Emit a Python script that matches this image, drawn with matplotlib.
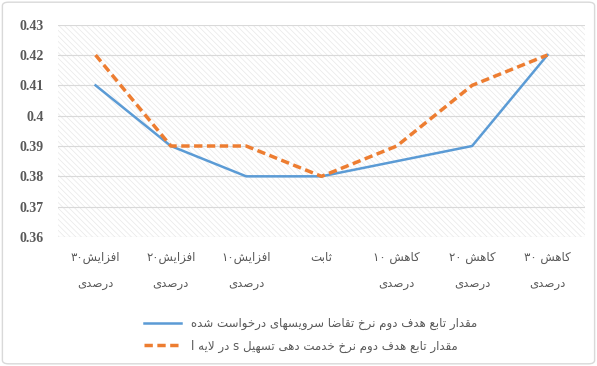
import matplotlib
matplotlib.use("Agg")
import matplotlib.pyplot as plt
from matplotlib.patches import FancyBboxPatch, Rectangle

# Persian text is shaped by hand: matplotlib draws no RTL joining on its own
FORMS = {
    "ا": (0xFE8D, 0xFE8E, None, None),
    "ب": (0xFE8F, 0xFE90, 0xFE91, 0xFE92),
    "ت": (0xFE95, 0xFE96, 0xFE97, 0xFE98),
    "ث": (0xFE99, 0xFE9A, 0xFE9B, 0xFE9C),
    "خ": (0xFEA5, 0xFEA6, 0xFEA7, 0xFEA8),
    "د": (0xFEA9, 0xFEAA, None, None),
    "ر": (0xFEAD, 0xFEAE, None, None),
    "ز": (0xFEAF, 0xFEB0, None, None),
    "س": (0xFEB1, 0xFEB2, 0xFEB3, 0xFEB4),
    "ش": (0xFEB5, 0xFEB6, 0xFEB7, 0xFEB8),
    "ص": (0xFEB9, 0xFEBA, 0xFEBB, 0xFEBC),
    "ض": (0xFEBD, 0xFEBE, 0xFEBF, 0xFEC0),
    "ع": (0xFEC9, 0xFECA, 0xFECB, 0xFECC),
    "ف": (0xFED1, 0xFED2, 0xFED3, 0xFED4),
    "ق": (0xFED5, 0xFED6, 0xFED7, 0xFED8),
    "ل": (0xFEDD, 0xFEDE, 0xFEDF, 0xFEE0),
    "م": (0xFEE1, 0xFEE2, 0xFEE3, 0xFEE4),
    "ن": (0xFEE5, 0xFEE6, 0xFEE7, 0xFEE8),
    "ه": (0xFEE9, 0xFEEA, 0xFEEB, 0xFEEC),
    "و": (0xFEED, 0xFEEE, None, None),
    "ی": (0xFBFC, 0xFBFD, 0xFBFE, 0xFBFF),
    "ک": (0xFB8E, 0xFB8F, 0xFB90, 0xFB91),
}


def dual(c):
    return c in FORMS and FORMS[c][2] is not None


def shape(text):
    out = []
    i = 0
    while i < len(text):
        c = text[i]
        prev = text[i - 1] if i > 0 else ""
        if c not in FORMS:
            out.append(c)
            i += 1
            continue
        joins_prev = dual(prev)
        if c == "ل" and i + 1 < len(text) and text[i + 1] == "ا":
            out.append(chr(0xFEFC if joins_prev else 0xFEFB))
            i += 2
            continue
        nxt = text[i + 1] if i + 1 < len(text) else ""
        joins_next = dual(c) and nxt in FORMS
        iso, fin, ini, med = FORMS[c]
        if joins_prev and joins_next:
            code = med
        elif joins_prev:
            code = fin
        elif joins_next:
            code = ini
        else:
            code = iso
        out.append(chr(code))
        i += 1
    # visual order: reverse, then put LTR runs (digits, latin) back in order
    rev = "".join(reversed(out))
    res, run = [], []
    for ch in rev:
        if ch.isascii() and ch.isalnum() or "\u06f0" <= ch <= "\u06f9":
            run.append(ch)
        else:
            res.extend(reversed(run))
            run = []
            res.append(ch)
    res.extend(reversed(run))
    return "".join(res)


categories = [
    ("افزایش۳۰", "درصدی"),
    ("افزایش۲۰", "درصدی"),
    ("افزایش۱۰", "درصدی"),
    ("ثابت", ""),
    ("کاهش ۱۰", "درصدی"),
    ("کاهش ۲۰", "درصدی"),
    ("کاهش ۳۰", "درصدی"),
]
demand_rate = [0.41, 0.39, 0.38, 0.38, 0.385, 0.39, 0.42]
service_rate = [0.42, 0.39, 0.39, 0.38, 0.39, 0.41, 0.42]
label_demand = "مقدار تابع هدف دوم نرخ تقاضا سرویسهای درخواست شده"
label_service = "مقدار تابع هدف دوم نرخ خدمت دهی تسهیل s در لایه l"
y_ticks = [0.36, 0.37, 0.38, 0.39, 0.40, 0.41, 0.42, 0.43]

plt.rcParams["hatch.linewidth"] = 0.5

fig = plt.figure(figsize=(5.97, 3.66), dpi=100)
frame = FancyBboxPatch((0.004, 0.006), 0.992, 0.988, boxstyle="round,pad=0,rounding_size=0.01",
                       transform=fig.transFigure, facecolor="white", edgecolor="#d9d9d9", lw=1, zorder=-5)
fig.patches.append(frame)
ax = fig.add_axes([0.097, 0.3525, 0.883, 0.58])
ax.patch.set_facecolor("white")
# light diagonal texture of the plot area
ax.add_patch(Rectangle((0, 0), 1, 1, transform=ax.transAxes, facecolor="white", edgecolor="#e8e8e8",
                       hatch="\\\\\\\\\\\\", lw=0, zorder=0))

x = range(len(categories))
ax.plot(x, demand_rate, color="#5b9bd5", lw=1.8, label=shape(label_demand), zorder=3)
ax.plot(x, service_rate, color="#ed7d31", lw=2.5, dashes=(2.4, 1.3), label=shape(label_service), zorder=3)

ax.set_xlim(-0.5, len(categories) - 0.5)
ax.set_ylim(0.36, 0.43)
ax.set_yticks(y_ticks)
ax.set_yticklabels([f"{v:g}" for v in y_ticks], family="Liberation Serif", fontweight="bold",
                   fontsize=10, color="#595959")
ax.yaxis.grid(True, color="#d9d9d9", lw=0.8, zorder=1)
ax.set_axisbelow(False)
for s in ax.spines.values():
    s.set_visible(False)
ax.tick_params(length=0)
ax.tick_params(axis="y", pad=10)
ax.set_xticks(list(x))
ax.set_xticklabels([])
for i, (top, bottom) in enumerate(categories):
    ax.text(i, -0.095, shape(top), transform=ax.get_xaxis_transform(), ha="center", va="center",
            fontsize=8.5, color="#595959", family="DejaVu Sans")
    if bottom:
        ax.text(i, -0.22, shape(bottom), transform=ax.get_xaxis_transform(), ha="center", va="center",
                fontsize=8.5, color="#595959", family="DejaVu Sans")

leg = fig.legend(loc="center", bbox_to_anchor=(0.52, 0.085), frameon=False, fontsize=8.5,
                 handlelength=3.2, labelspacing=0.8)
for t in leg.get_texts():
    t.set_color("#595959")

fig.savefig("out.png", dpi=100)
